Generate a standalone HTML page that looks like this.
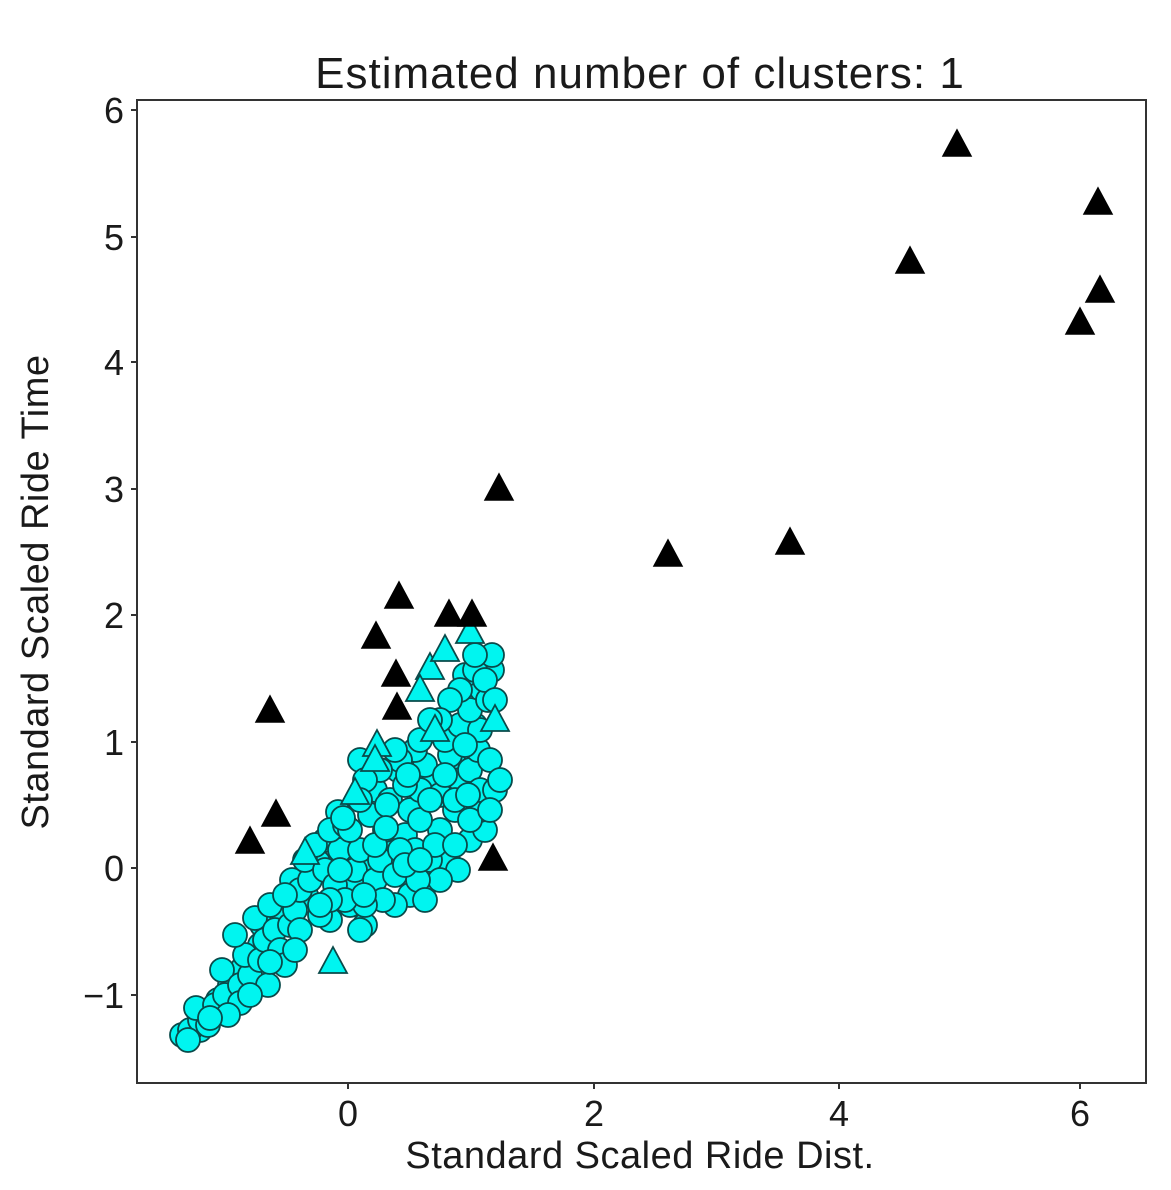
<!DOCTYPE html>
<html><head><meta charset="utf-8"><style>
body{margin:0;background:#fff}
svg{display:block}
text{font-family:"Liberation Sans",sans-serif;fill:#1a1a1a}
</style></head><body>
<svg width="1171" height="1190" viewBox="0 0 1171 1190" xmlns="http://www.w3.org/2000/svg">
<defs>
<path id="bt" d="M0,-15 L14,11 L-14,11 Z" fill="#000" stroke="#000" stroke-width="1.5"/>
<path id="ct" d="M0,-15 L14,11 L-14,11 Z" fill="#00f5f0" stroke="#0a4a4a" stroke-width="1.8"/>
</defs>
<rect x="137" y="100" width="1009" height="983" fill="#fff" stroke="#333" stroke-width="2"/>
<text x="640" y="88" font-size="44" text-anchor="middle" letter-spacing="1">Estimated number of clusters: 1</text>
<g stroke="#333" stroke-width="2">
<line x1="348" y1="1083" x2="348" y2="1089"/><line x1="594" y1="1083" x2="594" y2="1089"/><line x1="839" y1="1083" x2="839" y2="1089"/><line x1="1080" y1="1083" x2="1080" y2="1089"/>
<line x1="131" y1="110" x2="137" y2="110"/><line x1="131" y1="237" x2="137" y2="237"/><line x1="131" y1="362" x2="137" y2="362"/><line x1="131" y1="489" x2="137" y2="489"/><line x1="131" y1="615" x2="137" y2="615"/><line x1="131" y1="742" x2="137" y2="742"/><line x1="131" y1="868" x2="137" y2="868"/><line x1="131" y1="995" x2="137" y2="995"/>
</g>
<g font-size="36" text-anchor="middle">
<text x="348" y="1126">0</text><text x="594" y="1126">2</text><text x="839" y="1126">4</text><text x="1080" y="1126">6</text>
</g>
<g font-size="36" text-anchor="end">
<text x="124" y="123">6</text><text x="124" y="250">5</text><text x="124" y="375">4</text><text x="124" y="502">3</text><text x="124" y="628">2</text><text x="124" y="755">1</text><text x="124" y="881">0</text><text x="124" y="1008">−1</text>
</g>
<text x="640" y="1168" font-size="38" text-anchor="middle" letter-spacing="0.5">Standard Scaled Ride Dist.</text>
<text transform="translate(48,592) rotate(-90)" font-size="38" text-anchor="middle" letter-spacing="0.5">Standard Scaled Ride Time</text>
<g fill="#00f5f0" stroke="#0a4a4a" stroke-width="1.8">
<circle cx="230" cy="985" r="12"/><circle cx="262" cy="925" r="12"/><circle cx="292" cy="880" r="12"/><circle cx="318" cy="862" r="12"/><circle cx="330" cy="920" r="12"/><circle cx="352" cy="885" r="12"/><circle cx="372" cy="865" r="12"/><circle cx="392" cy="845" r="12"/><circle cx="410" cy="895" r="12"/><circle cx="432" cy="880" r="12"/><circle cx="448" cy="860" r="12"/><circle cx="470" cy="840" r="12"/><circle cx="485" cy="830" r="12"/><circle cx="480" cy="810" r="12"/><circle cx="375" cy="790" r="12"/><circle cx="398" cy="770" r="12"/><circle cx="430" cy="780" r="12"/><circle cx="455" cy="765" r="12"/><circle cx="475" cy="725" r="12"/><circle cx="482" cy="690" r="12"/><circle cx="465" cy="675" r="12"/><circle cx="492" cy="670" r="12"/><circle cx="360" cy="760" r="12"/><circle cx="338" cy="812" r="12"/><circle cx="325" cy="840" r="12"/><circle cx="306" cy="895" r="12"/><circle cx="282" cy="915" r="12"/><circle cx="260" cy="945" r="12"/><circle cx="243" cy="968" r="12"/><circle cx="218" cy="1000" r="12"/><circle cx="200" cy="1030" r="12"/>
<circle cx="182" cy="1035" r="12"/><circle cx="190" cy="1030" r="12"/><circle cx="200" cy="1020" r="12"/><circle cx="208" cy="1025" r="12"/><circle cx="196" cy="1008" r="12"/><circle cx="215" cy="1005" r="12"/><circle cx="225" cy="995" r="12"/><circle cx="222" cy="970" r="12"/><circle cx="240" cy="985" r="12"/><circle cx="250" cy="975" r="12"/><circle cx="245" cy="955" r="12"/><circle cx="235" cy="935" r="12"/><circle cx="260" cy="960" r="12"/><circle cx="265" cy="940" r="12"/><circle cx="255" cy="918" r="12"/><circle cx="275" cy="930" r="12"/><circle cx="280" cy="950" r="12"/><circle cx="290" cy="925" r="12"/><circle cx="295" cy="910" r="12"/><circle cx="270" cy="905" r="12"/><circle cx="300" cy="890" r="12"/><circle cx="285" cy="895" r="12"/><circle cx="310" cy="880" r="12"/><circle cx="320" cy="915" r="12"/><circle cx="305" cy="860" r="12"/><circle cx="325" cy="870" r="12"/><circle cx="315" cy="845" r="12"/><circle cx="340" cy="850" r="12"/><circle cx="330" cy="830" r="12"/><circle cx="345" cy="825" r="12"/><circle cx="335" cy="885" r="12"/><circle cx="355" cy="870" r="12"/><circle cx="360" cy="850" r="12"/><circle cx="350" cy="905" r="12"/><circle cx="365" cy="925" r="12"/><circle cx="375" cy="880" r="12"/><circle cx="380" cy="860" r="12"/><circle cx="395" cy="905" r="12"/><circle cx="395" cy="875" r="12"/><circle cx="385" cy="830" r="12"/><circle cx="370" cy="815" r="12"/><circle cx="390" cy="800" r="12"/><circle cx="405" cy="835" r="12"/><circle cx="410" cy="810" r="12"/><circle cx="420" cy="790" r="12"/><circle cx="415" cy="850" r="12"/><circle cx="430" cy="860" r="12"/><circle cx="440" cy="830" r="12"/><circle cx="425" cy="765" r="12"/><circle cx="440" cy="795" r="12"/><circle cx="455" cy="810" r="12"/><circle cx="460" cy="780" r="12"/><circle cx="450" cy="755" r="12"/><circle cx="470" cy="770" r="12"/><circle cx="480" cy="790" r="12"/><circle cx="495" cy="790" r="12"/><circle cx="478" cy="750" r="12"/><circle cx="490" cy="760" r="12"/><circle cx="445" cy="740" r="12"/><circle cx="460" cy="725" r="12"/><circle cx="480" cy="730" r="12"/><circle cx="470" cy="710" r="12"/><circle cx="488" cy="700" r="12"/><circle cx="460" cy="690" r="12"/><circle cx="475" cy="670" r="12"/><circle cx="492" cy="655" r="12"/><circle cx="485" cy="680" r="12"/><circle cx="450" cy="700" r="12"/><circle cx="440" cy="720" r="12"/><circle cx="415" cy="750" r="12"/><circle cx="400" cy="760" r="12"/><circle cx="380" cy="770" r="12"/><circle cx="365" cy="780" r="12"/><circle cx="395" cy="750" r="12"/><circle cx="420" cy="740" r="12"/><circle cx="430" cy="720" r="12"/><circle cx="465" cy="745" r="12"/><circle cx="445" cy="775" r="12"/><circle cx="405" cy="785" r="12"/><circle cx="387" cy="805" r="12"/><circle cx="360" cy="800" r="12"/><circle cx="350" cy="830" r="12"/><circle cx="375" cy="845" r="12"/><circle cx="400" cy="850" r="12"/><circle cx="420" cy="820" r="12"/><circle cx="435" cy="845" r="12"/><circle cx="455" cy="845" r="12"/><circle cx="458" cy="870" r="12"/><circle cx="440" cy="880" r="12"/><circle cx="418" cy="880" r="12"/><circle cx="405" cy="865" r="12"/><circle cx="383" cy="900" r="12"/><circle cx="365" cy="905" r="12"/><circle cx="345" cy="900" r="12"/><circle cx="330" cy="900" r="12"/><circle cx="300" cy="930" r="12"/><circle cx="285" cy="965" r="12"/><circle cx="268" cy="985" r="12"/><circle cx="240" cy="1003" r="12"/><circle cx="228" cy="1015" r="12"/><circle cx="210" cy="1018" r="12"/><circle cx="188" cy="1040" r="12"/><circle cx="295" cy="950" r="12"/><circle cx="270" cy="962" r="12"/><circle cx="250" cy="995" r="12"/><circle cx="320" cy="905" r="12"/><circle cx="340" cy="870" r="12"/><circle cx="360" cy="930" r="12"/><circle cx="364" cy="895" r="12"/><circle cx="425" cy="900" r="12"/><circle cx="455" cy="800" r="12"/><circle cx="470" cy="820" r="12"/><circle cx="490" cy="810" r="12"/><circle cx="500" cy="780" r="12"/><circle cx="475" cy="655" r="12"/><circle cx="495" cy="700" r="12"/><circle cx="343" cy="818" r="12"/><circle cx="408" cy="775" r="12"/><circle cx="430" cy="800" r="12"/><circle cx="386" cy="828" r="12"/><circle cx="420" cy="860" r="12"/><circle cx="468" cy="795" r="12"/>
</g>
<g>
<use href="#ct" x="333" y="962"/><use href="#ct" x="305" y="853"/><use href="#ct" x="355" y="793"/><use href="#ct" x="377" y="745"/><use href="#ct" x="430" y="668"/><use href="#ct" x="445" y="650"/><use href="#ct" x="470" y="632"/><use href="#ct" x="420" y="690"/><use href="#ct" x="495" y="720"/><use href="#ct" x="435" y="730"/><use href="#ct" x="375" y="760"/>
</g>
<g>
<use href="#bt" x="957" y="145"/><use href="#bt" x="1098" y="203"/><use href="#bt" x="910" y="262"/><use href="#bt" x="1100" y="291"/><use href="#bt" x="1080" y="323"/><use href="#bt" x="499" y="489"/><use href="#bt" x="668" y="555"/><use href="#bt" x="790" y="543"/><use href="#bt" x="399" y="597"/><use href="#bt" x="449" y="615"/><use href="#bt" x="472" y="615"/><use href="#bt" x="376" y="637"/><use href="#bt" x="396" y="675"/><use href="#bt" x="397" y="708"/><use href="#bt" x="270" y="711"/><use href="#bt" x="276" y="815"/><use href="#bt" x="250" y="842"/><use href="#bt" x="493" y="859"/>
</g>
</svg>
</body></html>
